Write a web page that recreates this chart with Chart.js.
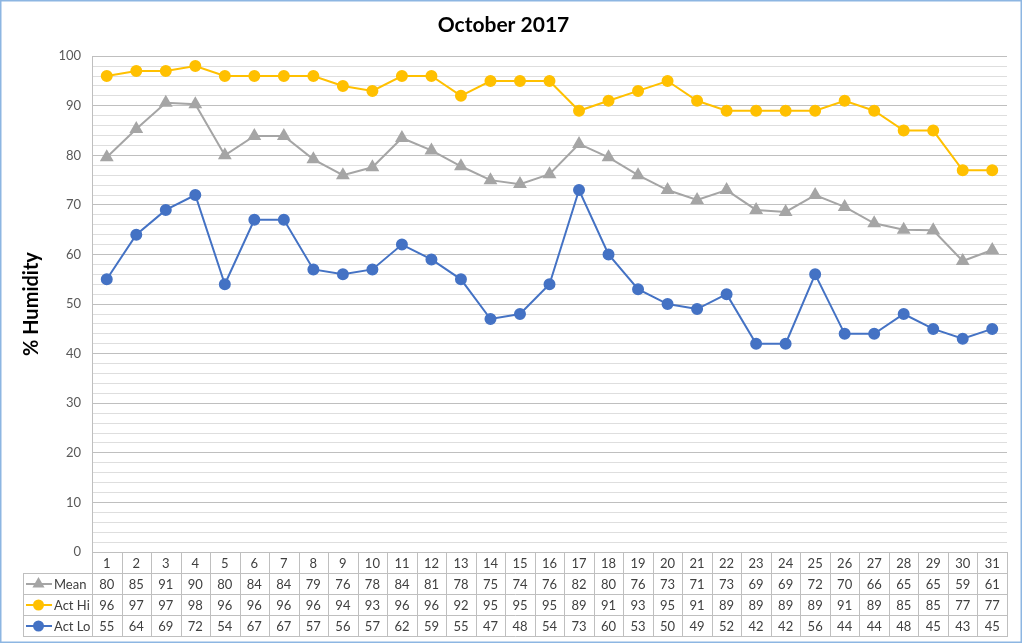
<!DOCTYPE html>
<html>
<head>
<meta charset="utf-8">
<script src="https://cdn.jsdelivr.net/npm/chart.js@4.4.1/dist/chart.umd.min.js"></script>
<style>
  html, body { margin: 0; padding: 0; background: #fff; }
  #wrap { width: 1022px; height: 643px; position: relative; }
</style>
</head>
<body>
<div id="wrap"><canvas id="humidityChart"></canvas></div>
<script>
// October 2017 humidity
const days = ['1','2','3','4','5','6','7','8','9','10','11','12','13','14','15','16',
              '17','18','19','20','21','22','23','24','25','26','27','28','29','30','31']
const meanVals = [79.6, 85.3, 90.6, 90.3, 80.0, 83.9, 83.9, 79.2, 76.0, 77.6, 83.5, 81.0, 77.8, 75.0, 74.2, 76.2,
                  82.3, 79.6, 76.0, 73.0, 71.0, 73.0, 69.0, 68.6, 72.0, 69.6, 66.3, 65.0, 64.9, 58.7, 60.9]
const actHi = [96, 97, 97, 98, 96, 96, 96, 96, 94, 93, 96, 96, 92, 95, 95, 95,
               89, 91, 93, 95, 91, 89, 89, 89, 89, 91, 89, 85, 85, 77, 77]
const actLo = [55, 64, 69, 72, 54, 67, 67, 57, 56, 57, 62, 59, 55, 47, 48, 54,
               73, 60, 53, 50, 49, 52, 42, 42, 56, 44, 44, 48, 45, 43, 45]

const FONT = 'Lato, "Open Sans", sans-serif'
const gridGrey = '#BFBFBF'

// data table under the plot, lined up with the category scale
const dataTable = {
    id: 'dataTable',
    afterDraw(chart) {
        const ctx = chart.ctx
        const x = chart.scales.x
        const top = chart.chartArea.bottom
        const rowH = 21
        const colW = (x.right - x.left) / days.length
        const legendLeft = 23

        ctx.save()
        ctx.strokeStyle = gridGrey
        ctx.lineWidth = 1
        ctx.beginPath()
        for (let r = 0; r <= 4; r++) {
            let y = Math.round(top + r * rowH) + 0.5
            ctx.moveTo(r === 0 ? x.left : legendLeft, y)
            ctx.lineTo(x.right + 1, y)
        }
        ctx.moveTo(legendLeft + 0.5, top + rowH)
        ctx.lineTo(legendLeft + 0.5, top + 4 * rowH)
        for (let i = 0; i <= days.length; i++) {
            let xi = Math.round(x.left + i * colW) + 0.5
            ctx.moveTo(xi, top)
            ctx.lineTo(xi, top + 4 * rowH + 0.5)
        }
        ctx.stroke()

        ctx.font = '13px ' + FONT
        ctx.textBaseline = 'middle'
        ctx.fillStyle = '#404040'
        ctx.textAlign = 'center'
        days.forEach((d, i) => {
            ctx.fillText(d, x.getPixelForValue(i), top + rowH / 2 + 1)
        })

        const rows = [
            { label: 'Mean', color: '#A5A5A5', style: 'triangle', vals: meanVals.map(v => Math.round(v)) },
            { label: 'Act Hi', color: '#FFC000', style: 'circle', vals: actHi },
            { label: 'Act Lo', color: '#4472C4', style: 'circle', vals: actLo },
        ]
        rows.forEach((row, r) => {
            let cy = top + (r + 1) * rowH + rowH / 2 + 0.5
            ctx.strokeStyle = row.color
            ctx.lineWidth = 2
            ctx.beginPath()
            ctx.moveTo(26, cy)
            ctx.lineTo(52, cy)
            ctx.stroke()
            ctx.fillStyle = row.color
            Chart.helpers.drawPoint(ctx, { pointStyle: row.style, radius: row.style === 'triangle' ? 5 : 4.5, borderWidth: 1, rotation: 0 }, 38.5, cy)
            ctx.fill()
            ctx.fillStyle = '#404040'
            ctx.textAlign = 'left'
            ctx.fillText(row.label, 54, cy + 0.5)
            ctx.textAlign = 'center'
            row.vals.forEach((v, i) => {
                ctx.fillText(String(v), x.getPixelForValue(i), cy + 0.5)
            })
        })
        ctx.restore()
    },
    beforeDraw(chart) {
        const ctx = chart.ctx
        ctx.save()
        ctx.fillStyle = '#fff'
        ctx.fillRect(0, 0, chart.width, chart.height)
        ctx.strokeStyle = '#8DB6E2'
        ctx.lineWidth = 1.5
        ctx.strokeRect(0.75, 0.75, chart.width - 1.5, chart.height - 1.5)
        ctx.restore()
    }
}

const ctx = document.getElementById('humidityChart').getContext('2d')
let chart = new Chart(ctx, {
    type: 'line',

    data: {
        labels: days,
        datasets: [
            {
                label: 'Mean',
                borderColor: '#A5A5A5',
                backgroundColor: '#A5A5A5',
                borderWidth: 2,
                pointStyle: 'triangle',
                pointRadius: 6,
                fill: false,
                data: meanVals,
            },
            {
                label: 'Act Hi',
                borderColor: '#FFC000',
                backgroundColor: '#FFC000',
                borderWidth: 2,
                pointStyle: 'circle',
                pointRadius: 5,
                fill: false,
                data: actHi,
            },
            {
                label: 'Act Lo',
                borderColor: '#4472C4',
                backgroundColor: '#4472C4',
                borderWidth: 2,
                pointStyle: 'circle',
                pointRadius: 5,
                fill: false,
                data: actLo,
            },
        ],
    },

    plugins: [dataTable],

    options: {
        responsive: true,
        maintainAspectRatio: false,
        animation: false,
        layout: {
            padding: { left: 0, right: 15, top: 6, bottom: 7 },
        },
        plugins: {
            legend: { display: false },
            tooltip: { enabled: false },
            title: {
                display: true,
                text: 'October 2017',
                color: '#000',
                font: { family: FONT, size: 21, weight: 'bold' },
                padding: { top: 7, bottom: 18 },
            },
        },
        scales: {
            x: {
                type: 'category',
                offset: true,
                grid: { display: false },
                border: { display: false },
                ticks: { display: false },
                afterFit(scale) { scale.height = 84 },
            },
            y: {
                min: 0,
                max: 100,
                ticks: {
                    stepSize: 2,
                    autoSkip: false,
                    padding: 11,
                    color: '#595959',
                    font: { family: FONT, size: 13 },
                    callback: v => (v % 10 === 0 ? v : ''),
                },
                grid: {
                    drawTicks: false,
                    color: c => (c.tick && c.tick.value % 10 === 0 ? '#BFBFBF' : '#DEDEDE'),
                    lineWidth: 1,
                },
                border: { display: true, color: gridGrey },
                title: {
                    display: true,
                    text: '% Humidity',
                    color: '#000',
                    font: { family: FONT, size: 20, weight: 'bold' },
                    padding: { top: 20, bottom: 0 },
                },
                afterFit(scale) { scale.width = 92 },
            },
        },
    },
})
</script>
</body>
</html>
